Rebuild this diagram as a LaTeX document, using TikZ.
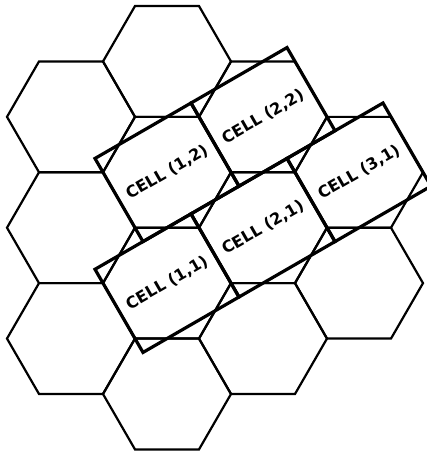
\documentclass[tikz,border=0pt]{standalone}
\usepackage{fontspec}
\newfontfamily\cellfont{DejaVu Sans}
\tikzset{
  hexline/.style={line width=2.2pt, line join=miter},
  cellbox/.style={draw, line width=3.2pt, rotate=30, minimum width=110.85pt, minimum height=96pt,
     inner sep=0pt, font=\cellfont\bfseries\fontsize{16}{18}\selectfont},
}
\begin{document}
\begin{tikzpicture}[x=1pt,y=1pt]
\useasboundingbox (0,0) rectangle (427,453);
\clip (0,0) rectangle (427,453);
% hexagons (side 64)
\foreach \cx/\cy in {71/114.43, 71/225.28, 71/336.13,
                     167/59, 167/169.85, 167/280.70, 167/391.55,
                     263/114.43, 263/225.28, 263/336.13,
                     359/169.85, 359/280.70}{
  \draw[hexline] (\cx,\cy) +(0:64) -- +(60:64) -- +(120:64) -- +(180:64) -- +(240:64) -- +(300:64) -- cycle;
}
% cells
\node[cellbox] (c11) at (167,169.85) {CELL (1,1)};
\node[cellbox] (c21) at (263,225.28) {CELL (2,1)};
\node[cellbox] (c31) at (359,280.70) {CELL (3,1)};
\node[cellbox] (c12) at (167,280.70) {CELL (1,2)};
\node[cellbox] (c22) at (263,336.13) {CELL (2,2)};
\end{tikzpicture}
\end{document}
